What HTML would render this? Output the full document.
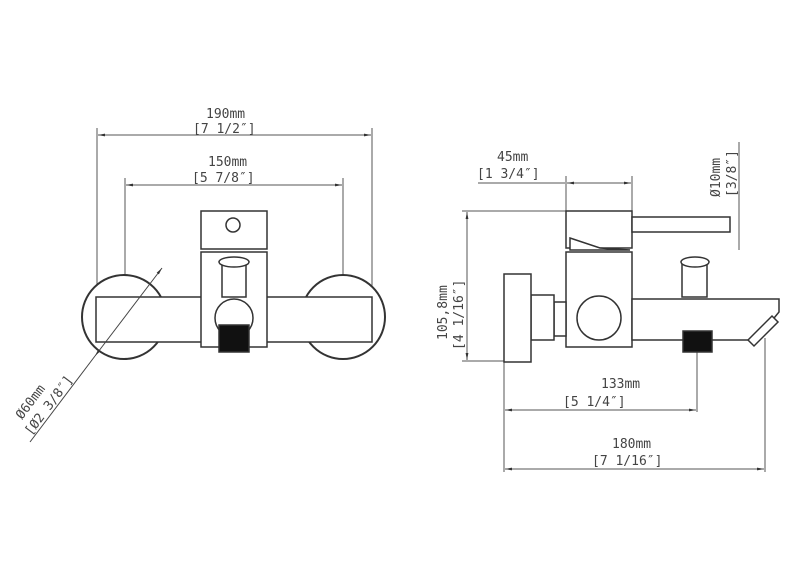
<!DOCTYPE html>
<html><head><meta charset="utf-8"><style>
html,body{margin:0;padding:0;background:#fff;width:799px;height:587px;overflow:hidden}
text{font-family:"DejaVu Sans Mono","Liberation Mono",monospace;fill:#444;font-size:13px}
</style></head><body>
<svg width="799" height="587" viewBox="0 0 799 587" xmlns="http://www.w3.org/2000/svg">
<defs><marker id="a" viewBox="0 0 10 10" refX="10" refY="5" markerWidth="7" markerHeight="7" orient="auto-start-reverse"><path d="M0,3 L10,5 L0,7z" fill="#333"/></marker></defs>
<g stroke="#555" stroke-width="1" fill="none">
<line x1="97" y1="128" x2="97" y2="300"/><line x1="372" y1="128" x2="372" y2="300"/>
<line x1="98" y1="135" x2="371" y2="135" marker-start="url(#a)" marker-end="url(#a)"/>
<line x1="125" y1="178" x2="125" y2="275"/><line x1="343" y1="178" x2="343" y2="275"/>
<line x1="126" y1="185" x2="342" y2="185" marker-start="url(#a)" marker-end="url(#a)"/>
<line x1="478" y1="183" x2="565" y2="183"/><line x1="566" y1="176" x2="566" y2="211"/><line x1="632" y1="176" x2="632" y2="211"/>
<line x1="567" y1="183" x2="631" y2="183" marker-start="url(#a)" marker-end="url(#a)"/>
<line x1="739" y1="142" x2="739" y2="250"/>
<line x1="462" y1="211" x2="566" y2="211"/><line x1="462" y1="361" x2="504" y2="361"/>
<line x1="467" y1="212" x2="467" y2="360" marker-start="url(#a)" marker-end="url(#a)"/>
<line x1="504" y1="362" x2="504" y2="472"/><line x1="697" y1="352" x2="697" y2="412"/><line x1="765" y1="338" x2="765" y2="472"/>
<line x1="505" y1="410" x2="696" y2="410" marker-start="url(#a)" marker-end="url(#a)"/>
<line x1="505" y1="469" x2="764" y2="469" marker-start="url(#a)" marker-end="url(#a)"/>
</g>
<g stroke="#333" stroke-width="1.5" fill="#fff">
<circle cx="124" cy="317" r="42" stroke-width="2"/>
<circle cx="343" cy="317" r="42" stroke-width="2"/>
<rect x="96" y="297" width="276" height="45"/>
<rect x="201" y="252" width="66" height="95"/>
<rect x="201" y="211" width="66" height="38"/>
<circle cx="233" cy="225" r="7"/>
<rect x="222" y="262" width="24" height="35"/>
<ellipse cx="234" cy="262" rx="15" ry="5"/>
<circle cx="234" cy="318" r="19"/>
<rect x="219" y="325" width="30" height="27" fill="#111"/>
<rect x="566" y="211" width="66" height="37"/>
<rect x="632" y="217" width="98" height="15"/>
<path d="M570 238 L600 248 L630 250 L570 250z"/>
<rect x="566" y="252" width="66" height="95"/>
<path d="M632 299 L779 299 L779 312 L756 340 L632 340z"/>
<path d="M748 340 L772 316 L778 322 L754 346z"/>
<rect x="682" y="262" width="25" height="35"/>
<ellipse cx="695" cy="262" rx="14" ry="5"/>
<rect x="683" y="331" width="29" height="21" fill="#111"/>
<rect x="554" y="302" width="12" height="34"/>
<rect x="531" y="295" width="23" height="45"/>
<rect x="504" y="274" width="27" height="88"/>
<circle cx="599" cy="318" r="22"/>
</g>
<g stroke="#444" stroke-width="1" fill="none">
<line x1="162" y1="268" x2="95" y2="356" marker-start="url(#a)" marker-end="url(#a)"/>
<line x1="95" y1="356" x2="30" y2="442"/>
</g>
<text x="206" y="118">190mm</text><text x="193" y="133">[7 1/2″]</text>
<text x="208" y="166">150mm</text><text x="192" y="182">[5 7/8″]</text>
<text x="497" y="161">45mm</text><text x="477" y="178">[1 3/4″]</text>
<text x="601" y="388">133mm</text><text x="563" y="406">[5 1/4″]</text>
<text x="612" y="448">180mm</text><text x="592" y="465">[7 1/16″]</text>
<text transform="translate(720,197) rotate(-90)">Ø10mm</text>
<text transform="translate(736,197) rotate(-90)">[3/8″]</text>
<text transform="translate(447,340) rotate(-90)">105,8mm</text>
<text transform="translate(463,350) rotate(-90)">[4 1/16″]</text>
<text transform="translate(22,420) rotate(-53)">Ø60mm</text>
<text transform="translate(31,436) rotate(-53)">[Ø2 3/8″]</text>
</svg>
</body></html>
